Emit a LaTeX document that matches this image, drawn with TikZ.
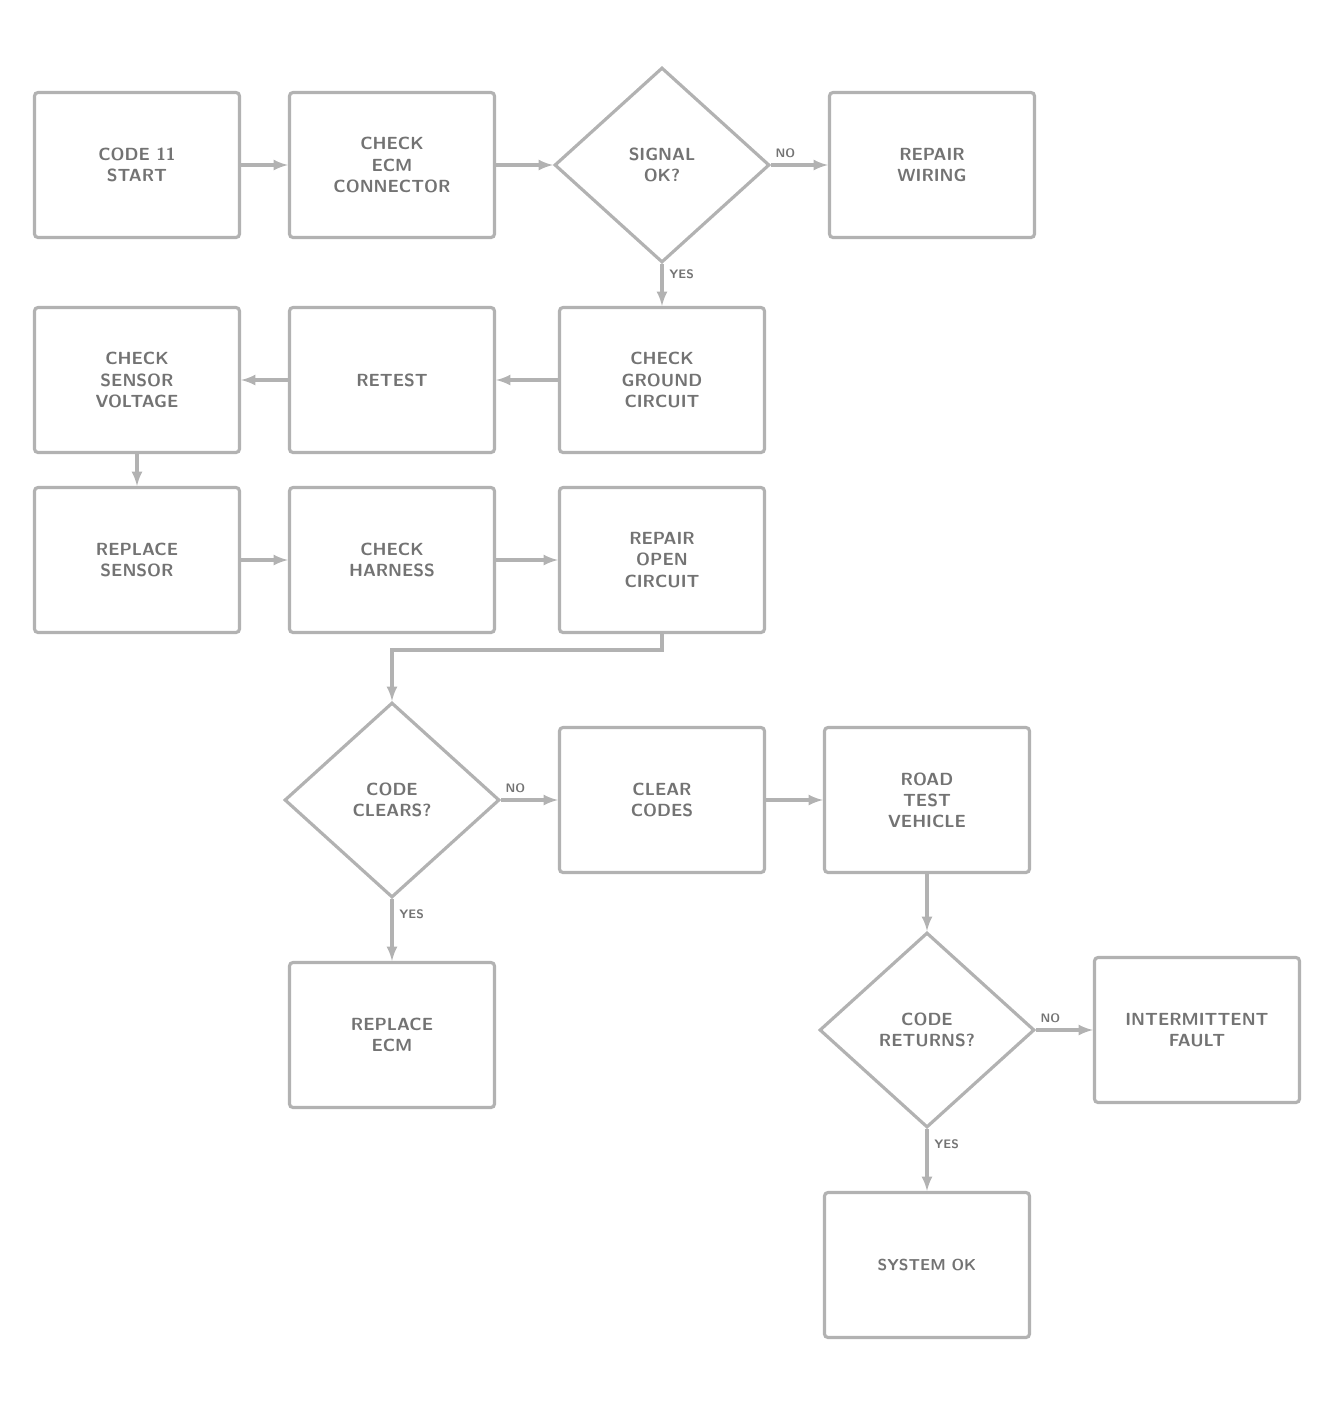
\documentclass[tikz,border=0pt]{standalone}
\usepackage{amsmath}
\usetikzlibrary{shapes, arrows.meta, positioning}
\tikzstyle{block} = [draw=black!30, line width=1.8pt, fill=white, rectangle, rounded corners=2pt, minimum width=4.1cm, minimum height=2.9cm, align=center, font=\sffamily\bfseries, text=black!55]
\tikzstyle{decision} = [draw=black!30, line width=1.8pt, fill=white, diamond, minimum width=4.3cm, minimum height=3.9cm, inner sep=0pt, align=center, font=\sffamily\bfseries, text=black!55]
\tikzstyle{flow} = [draw=black!30, line width=1.8pt]
\tikzstyle{answer} = [font=\sffamily\bfseries\scriptsize, text=black!55]

\begin{document}
\begin{tikzpicture}[auto,>=latex]
  \useasboundingbox (-2.74,3.3) rectangle (24.06,-24.8);
  \node[block] (start) {CODE 11\\START};
  \node[block, right of=start, node distance=5.1cm] (ecm) {CHECK\\ECM\\CONNECTOR};
  \node[decision, right of=ecm, node distance=5.4cm] (sig) {SIGNAL\\OK?};
  \node[block, right of=sig, node distance=5.4cm] (wire) {REPAIR\\WIRING};
  \node[block, below of=start, node distance=4.3cm] (volt) {CHECK\\SENSOR\\VOLTAGE};
  \node[block, right of=volt, node distance=5.1cm] (retest) {RETEST};
  \node[block, right of=retest, node distance=5.4cm] (gnd) {CHECK\\GROUND\\CIRCUIT};
  \node[block, below of=volt, node distance=3.6cm] (sensor) {REPLACE\\SENSOR};
  \node[block, right of=sensor, node distance=5.1cm] (harness) {CHECK\\HARNESS};
  \node[block, right of=harness, node distance=5.4cm] (open) {REPAIR\\OPEN\\CIRCUIT};
  \node[decision, below of=harness, node distance=4.8cm] (clears) {CODE\\CLEARS?};
  \node[block, right of=clears, node distance=5.4cm] (clr) {CLEAR\\CODES};
  \node[block, right of=clr, node distance=5.3cm] (road) {ROAD\\TEST\\VEHICLE};
  \node[block, below of=clears, node distance=4.7cm] (newecm) {REPLACE\\ECM};
  \node[decision, below of=road, node distance=4.6cm] (returns) {CODE\\RETURNS?};
  \node[block, right of=returns, node distance=5.4cm] (inter) {INTERMITTENT\\FAULT};
  \node[block, below of=returns, node distance=4.7cm, font=\sffamily\bfseries\small] (ok) {SYSTEM OK};
  \coordinate[below of=open, node distance=1.8cm] (bend);
  \draw[flow, ->] (start) -- (ecm);
  \draw[flow, ->] (ecm) -- (sig);
  \draw[flow, ->] (sig) -- node[answer, near start] {NO} (wire);
  \draw[flow, ->] (sig) -- node[answer, near start] {YES} (gnd);
  \draw[flow, ->] (gnd) -- (retest);
  \draw[flow, ->] (retest) -- (volt);
  \draw[flow, ->] (volt) -- (sensor);
  \draw[flow, ->] (sensor) -- (harness);
  \draw[flow, ->] (harness) -- (open);
  \draw[flow, ->] (open) -- (bend) -| (clears);
  \draw[flow, ->] (clears) -- node[answer, near start] {NO} (clr);
  \draw[flow, ->] (clears) -- node[answer, near start] {YES} (newecm);
  \draw[flow, ->] (clr) -- (road);
  \draw[flow, ->] (road) -- (returns);
  \draw[flow, ->] (returns) -- node[answer, near start] {NO} (inter);
  \draw[flow, ->] (returns) -- node[answer, near start] {YES} (ok);
\end{tikzpicture}
\end{document}
